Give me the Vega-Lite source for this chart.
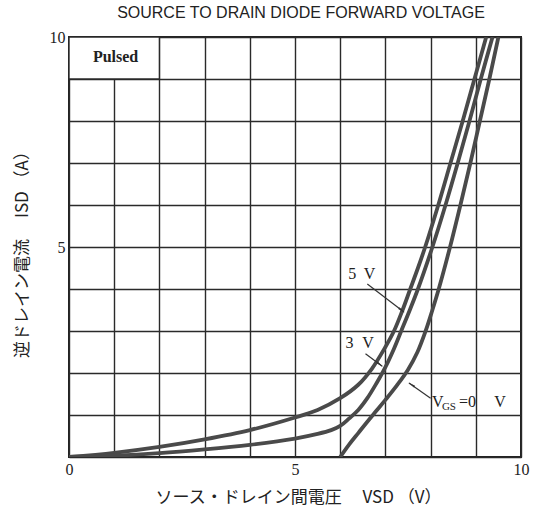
{
  "$schema": "https://vega.github.io/schema/vega-lite/v6.json",
  "width": 452,
  "height": 420,
  "autosize": "none",
  "padding": {"left": 69, "top": 37, "right": 21, "bottom": 60},
  "background": "white",
  "config": {
    "view": {"stroke": "#222", "strokeWidth": 2},
    "title": {"font": "Liberation Sans", "fontSize": 16, "fontWeight": "normal", "color": "#222"}
  },
  "title": {"text": "SOURCE TO DRAIN DIODE FORWARD VOLTAGE", "anchor": "middle", "offset": 8, "dx": 6},
  "encoding": {
    "x": {
      "field": "x", "type": "quantitative",
      "scale": {"domain": [0, 10], "nice": false, "zero": false},
      "axis": {
        "values": [0, 1, 2, 3, 4, 5, 6, 7, 8, 9, 10],
        "labelExpr": "datum.value % 5 === 0 ? datum.label : ''",
        "grid": true, "gridColor": "#2a2a2a", "gridWidth": 1.4, "gridOpacity": 1,
        "domain": false, "ticks": false,
        "labelFont": "Liberation Serif", "labelFontSize": 16, "labelColor": "#222", "labelPadding": 4, "labelFlush": false,
        "title": "ソース・ドレイン間電圧　 VSD  （V）",
        "titleFont": "Noto Sans CJK JP", "titleFontSize": 17, "titleFontWeight": "normal", "titleColor": "#222",
        "titleX": 229, "titleY": 40, "titleBaseline": "middle", "titleAlign": "center"
      }
    },
    "y": {
      "field": "y", "type": "quantitative",
      "scale": {"domain": [0, 10], "nice": false, "zero": false},
      "axis": {
        "values": [0, 1, 2, 3, 4, 5, 6, 7, 8, 9, 10],
        "labelExpr": "datum.value === 5 || datum.value === 10 ? datum.label : ''",
        "grid": true, "gridColor": "#2a2a2a", "gridWidth": 1.4, "gridOpacity": 1,
        "domain": false, "ticks": false,
        "labelFont": "Liberation Serif", "labelFontSize": 16, "labelColor": "#222", "labelPadding": 4,
        "title": "逆ドレイン電流　 ISD  （A）",
        "titleFont": "Noto Sans CJK JP", "titleFontSize": 17, "titleFontWeight": "normal", "titleColor": "#222",
        "titleX": -47, "titleY": 213, "titleBaseline": "middle", "titleAlign": "center", "titleAngle": -90
      }
    }
  },
  "layer": [
    {
      "data": {"values": [{"x": 0, "y": 9, "x2": 2, "y2": 10}]},
      "mark": {"type": "rect", "fill": "white", "stroke": "#2a2a2a", "strokeWidth": 1.4},
      "encoding": {"x2": {"field": "x2"}, "y2": {"field": "y2"}}
    },
    {
      "data": {"values": [{"x": 1.03, "y": 9.53, "t": "Pulsed"}]},
      "mark": {"type": "text", "font": "Liberation Serif", "fontSize": 16, "fontWeight": "bold", "color": "#222", "align": "center", "baseline": "middle"},
      "encoding": {"text": {"field": "t"}}
    },
    {
      "data": {"values": [
        {"g": "5 V", "x": 0, "y": 0}, {"g": "5 V", "x": 1, "y": 0.1}, {"g": "5 V", "x": 2, "y": 0.24}, {"g": "5 V", "x": 3, "y": 0.42},
        {"g": "5 V", "x": 4, "y": 0.64}, {"g": "5 V", "x": 5, "y": 0.94}, {"g": "5 V", "x": 5.5, "y": 1.12}, {"g": "5 V", "x": 6, "y": 1.4},
        {"g": "5 V", "x": 6.4, "y": 1.72}, {"g": "5 V", "x": 6.7, "y": 2.1}, {"g": "5 V", "x": 7.0, "y": 2.62}, {"g": "5 V", "x": 7.19, "y": 3.0},
        {"g": "5 V", "x": 7.38, "y": 3.5}, {"g": "5 V", "x": 7.55, "y": 4.0}, {"g": "5 V", "x": 7.72, "y": 4.5}, {"g": "5 V", "x": 7.88, "y": 5.0},
        {"g": "5 V", "x": 8.17, "y": 6.0},
        {"g": "5 V", "x": 8.44, "y": 7.0}, {"g": "5 V", "x": 8.71, "y": 8.0}, {"g": "5 V", "x": 8.97, "y": 9.0}, {"g": "5 V", "x": 9.23, "y": 10.0},
        {"g": "3 V", "x": 0, "y": 0}, {"g": "3 V", "x": 1, "y": 0.03}, {"g": "3 V", "x": 2, "y": 0.09}, {"g": "3 V", "x": 3, "y": 0.18},
        {"g": "3 V", "x": 4, "y": 0.29}, {"g": "3 V", "x": 5, "y": 0.44}, {"g": "3 V", "x": 5.5, "y": 0.55}, {"g": "3 V", "x": 5.8, "y": 0.64},
        {"g": "3 V", "x": 6.0, "y": 0.74}, {"g": "3 V", "x": 6.2, "y": 0.92}, {"g": "3 V", "x": 6.4, "y": 1.12}, {"g": "3 V", "x": 6.6, "y": 1.4},
        {"g": "3 V", "x": 6.8, "y": 1.75}, {"g": "3 V", "x": 7.0, "y": 2.14}, {"g": "3 V", "x": 7.19, "y": 2.58}, {"g": "3 V", "x": 7.35, "y": 3.0},
        {"g": "3 V", "x": 7.54, "y": 3.5}, {"g": "3 V", "x": 7.72, "y": 4.0}, {"g": "3 V", "x": 8.04, "y": 5.0}, {"g": "3 V", "x": 8.33, "y": 6.0}, {"g": "3 V", "x": 8.6, "y": 7.0},
        {"g": "3 V", "x": 8.86, "y": 8.0}, {"g": "3 V", "x": 9.11, "y": 9.0}, {"g": "3 V", "x": 9.37, "y": 10.0},
        {"g": "0 V", "x": 6.0, "y": 0}, {"g": "0 V", "x": 6.2, "y": 0.3}, {"g": "0 V", "x": 6.4, "y": 0.57}, {"g": "0 V", "x": 6.6, "y": 0.84},
        {"g": "0 V", "x": 6.8, "y": 1.1}, {"g": "0 V", "x": 7.0, "y": 1.36}, {"g": "0 V", "x": 7.25, "y": 1.7}, {"g": "0 V", "x": 7.5, "y": 2.08},
        {"g": "0 V", "x": 7.71, "y": 2.5}, {"g": "0 V", "x": 7.89, "y": 3.0}, {"g": "0 V", "x": 8.04, "y": 3.5}, {"g": "0 V", "x": 8.18, "y": 4.0}, {"g": "0 V", "x": 8.43, "y": 5.0},
        {"g": "0 V", "x": 8.66, "y": 6.0}, {"g": "0 V", "x": 8.88, "y": 7.0}, {"g": "0 V", "x": 9.09, "y": 8.0}, {"g": "0 V", "x": 9.3, "y": 9.0},
        {"g": "0 V", "x": 9.5, "y": 10.0}
      ]},
      "mark": {"type": "line", "color": "#4a4a4a", "strokeWidth": 3.8, "interpolate": "catmull-rom", "clip": true},
      "encoding": {"detail": {"field": "g"}}
    },
    {
      "data": {"values": [
        {"x": 6.6, "y": 4.12, "x2": 7.41, "y2": 3.45},
        {"x": 6.56, "y": 2.46, "x2": 6.93, "y2": 2.16},
        {"x": 8.0, "y": 1.4, "x2": 7.52, "y2": 1.76}
      ]},
      "mark": {"type": "rule", "color": "#333", "strokeWidth": 1.2},
      "encoding": {"x2": {"field": "x2"}, "y2": {"field": "y2"}}
    },
    {
      "data": {"values": [{"x": 7.34, "y": 3.51}, {"x": 6.86, "y": 2.22}]},
      "mark": {"type": "point", "shape": "wedge", "filled": true, "color": "#333", "size": 70, "angle": 127, "opacity": 1},
      "encoding": {}
    },
    {
      "data": {"values": [{"x": 7.6, "y": 1.71}]},
      "mark": {"type": "point", "shape": "wedge", "filled": true, "color": "#333", "size": 70, "angle": 305, "opacity": 1},
      "encoding": {}
    },
    {
      "data": {"values": [
        {"x": 6.18, "y": 4.25, "t": "5"}, {"x": 6.52, "y": 4.25, "t": "V"},
        {"x": 6.12, "y": 2.59, "t": "3"}, {"x": 6.49, "y": 2.59, "t": "V"},
        {"x": 8.03, "y": 1.18, "t": "V"}, {"x": 8.63, "y": 1.18, "t": "=0"}, {"x": 9.41, "y": 1.18, "t": "V"}
      ]},
      "mark": {"type": "text", "font": "Liberation Serif", "fontSize": 16, "color": "#222", "align": "left", "baseline": "alphabetic"},
      "encoding": {"text": {"field": "t"}}
    },
    {
      "data": {"values": [{"x": 8.25, "y": 1.12, "t": "GS"}]},
      "mark": {"type": "text", "font": "Liberation Serif", "fontSize": 11, "color": "#222", "align": "left", "baseline": "alphabetic"},
      "encoding": {"text": {"field": "t"}}
    }
  ]
}
